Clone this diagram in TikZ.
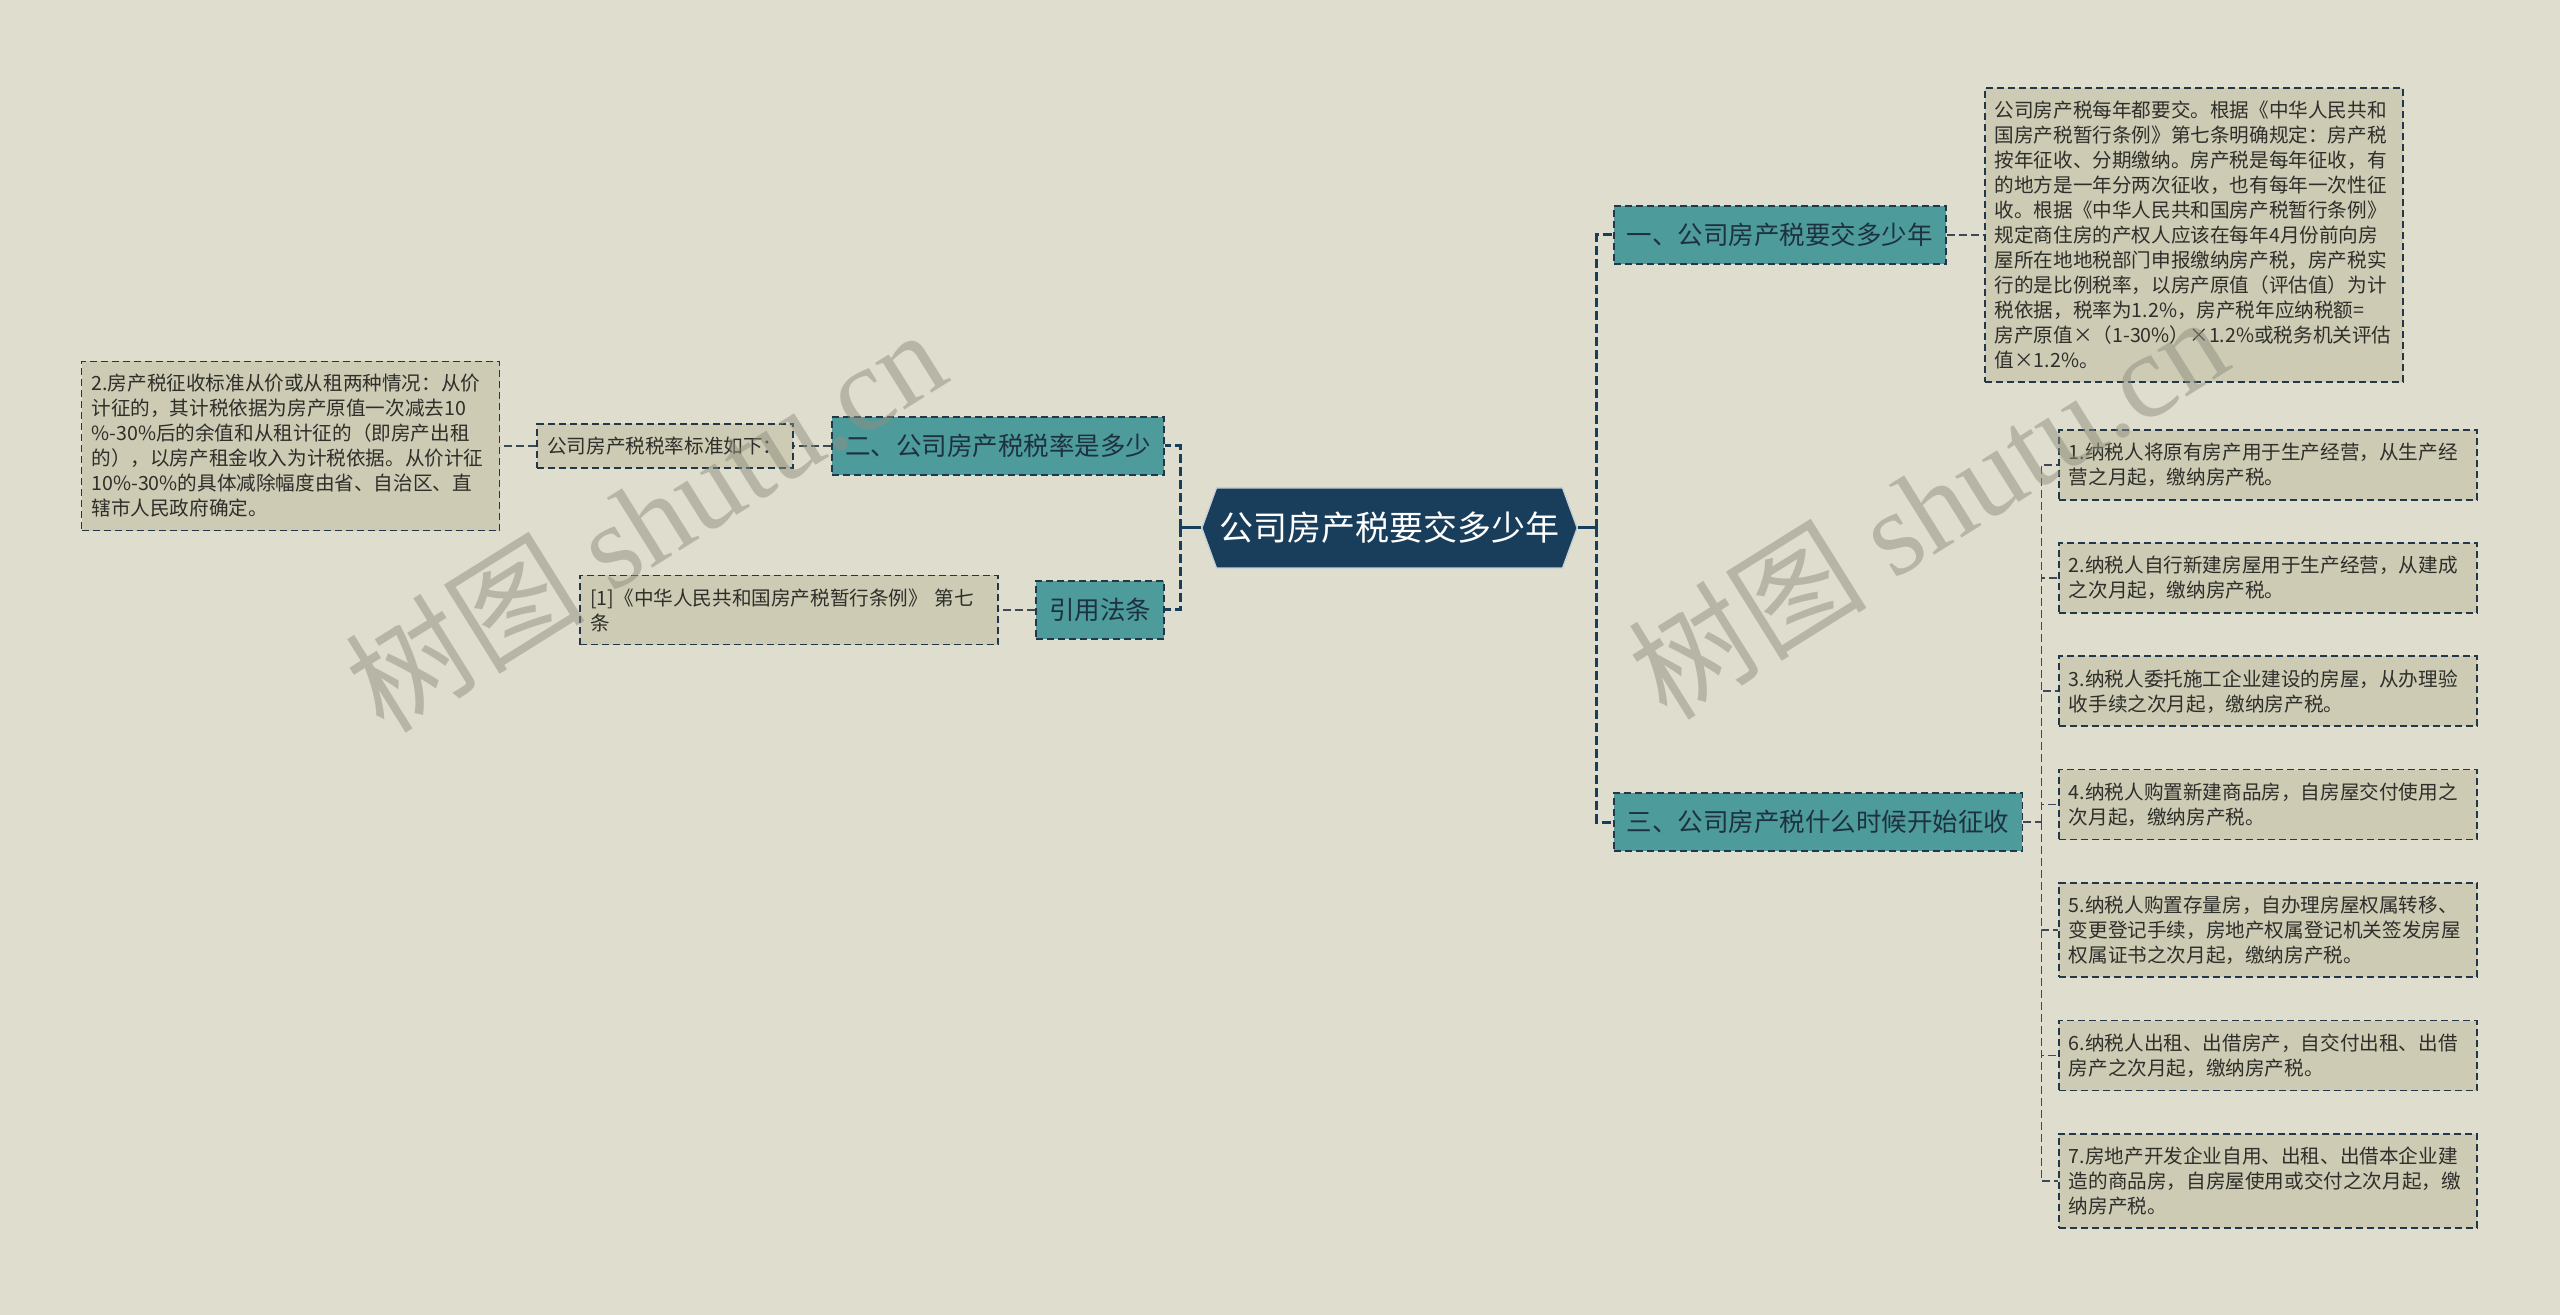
\documentclass[tikz,border=0pt]{standalone}
\usepackage{fontspec}
\setmainfont{Noto Sans CJK SC}
\newfontfamily\wmserif{Liberation Serif}
\usetikzlibrary{positioning, shapes.symbols}
\definecolor{tbg}{HTML}{DEDDCE}
\definecolor{tnavy}{HTML}{183E5C}
\definecolor{tteal}{HTML}{4D9B9B}
\definecolor{tleaf}{HTML}{CDCBB4}
\definecolor{tline}{HTML}{22384A}
\definecolor{tlink}{HTML}{3B4A55}
\definecolor{ttext}{HTML}{2E2E2A}
\definecolor{ttopic}{HTML}{1E3140}
\definecolor{twm}{HTML}{8F8F80}

\begin{document}
\begin{tikzpicture}[x=0.5pt, y=-0.5pt,
          leaf/.style={draw=tline, dash pattern=on 3.5pt off 2pt, line width=0.9pt, fill=tleaf, text=ttext, font=\fontsize{9.8}{12.5}\selectfont, align=left, text width=199pt, inner xsep=5pt, inner ysep=6.5pt},
          topic/.style={draw=tline, dash pattern=on 3.5pt off 2pt, line width=0.9pt, fill=tteal, text=ttopic, font=\fontsize{12.75}{15}\selectfont, minimum height=29pt, inner xsep=6.5pt},
          stub/.style={tnavy, line width=1.5pt},
          trunk/.style={tnavy, line width=1.5pt, dash pattern=on 4.5pt off 2pt},
          link/.style={tlink, line width=0.8pt, dash pattern=on 4pt off 2pt},
          wm/.style={text=twm, opacity=0.5, rotate=32, font=\fontsize{60}{60}\selectfont}]
        \path[use as bounding box, fill=tbg] (0,0) rectangle (2560,1315);
        \node[signal, signal to=east and west, signal pointer angle=140, fill=tnavy, draw=white!75!tnavy, line width=0.6pt, text=white, font=\fontsize{17}{20}\selectfont, minimum height=40pt, inner xsep=1.5pt] (root) at (1389.5,528) {公司房产税要交多少年};
        \node[topic, anchor=west] (q1) at (1613,235) {一、公司房产税要交多少年};
        \node[topic, anchor=west] (q3) at (1613,822) {三、公司房产税什么时候开始征收};
        \node[topic, anchor=east] (q2) at (1165,446) {二、公司房产税税率是多少};
        \node[topic, anchor=east] (ref) at (1165,610) {引用法条};
        \node[leaf, left=18.5pt of q2, text width=118pt] (rate1) {公司房产税税率标准如下：};
        \node[leaf, left=18pt of rate1] (rate2) {2.房产税征收标准从价或从租两种情况：从价\\计征的，其计税依据为房产原值一次减去10\\\%-30\%后的余值和从租计征的（即房产出租\\的），以房产租金收入为计税依据。从价计征\\10\%-30\%的具体减除幅度由省、自治区、直\\辖市人民政府确定。};
        \node[leaf, left=18pt of ref] (law1) {[1]《中华人民共和国房产税暂行条例》 第七\\条};
        \node[leaf, right=18.5pt of q1] (ans1) {公司房产税每年都要交。根据《中华人民共和\\国房产税暂行条例》第七条明确规定：房产税\\按年征收、分期缴纳。房产税是每年征收，有\\的地方是一年分两次征收，也有每年一次性征\\收。根据《中华人民共和国房产税暂行条例》\\规定商住房的产权人应该在每年4月份前向房\\屋所在地地税部门申报缴纳房产税，房产税实\\行的是比例税率，以房产原值（评估值）为计\\税依据，税率为1.2\%，房产税年应纳税额=\\房产原值×（1-30\%）×1.2\%或税务机关评估\\值×1.2\%。};
        \node[leaf, anchor=north west, minimum height=35pt] (it1) at (2058,429) {1.纳税人将原有房产用于生产经营，从生产经\\营之月起，缴纳房产税。};
        \node[leaf, below=20.7pt of it1, minimum height=35pt] (it2) {2.纳税人自行新建房屋用于生产经营，从建成\\之次月起，缴纳房产税。};
        \node[leaf, below=20.7pt of it2, minimum height=35pt] (it3) {3.纳税人委托施工企业建设的房屋，从办理验\\收手续之次月起，缴纳房产税。};
        \node[leaf, below=20.7pt of it3, minimum height=35pt] (it4) {4.纳税人购置新建商品房，自房屋交付使用之\\次月起，缴纳房产税。};
        \node[leaf, below=20.7pt of it4, minimum height=35pt] (it5) {5.纳税人购置存量房，自办理房屋权属转移、\\变更登记手续，房地产权属登记机关签发房屋\\权属证书之次月起，缴纳房产税。};
        \node[leaf, below=20.7pt of it5, minimum height=35pt] (it6) {6.纳税人出租、出借房产，自交付出租、出借\\房产之次月起，缴纳房产税。};
        \node[leaf, below=20.7pt of it6, minimum height=35pt] (it7) {7.房地产开发企业自用、出租、出借本企业建\\造的商品房，自房屋使用或交付之次月起，缴\\纳房产税。};
        \coordinate (lhub) at ([xshift=-10.5pt]root.west);
        \coordinate (rhub) at ([xshift=9.5pt]root.east);
        \coordinate (ihub) at ([xshift=9pt]q3.east);
        \draw[stub] (root.west) -- (lhub);
        \draw[stub] (root.east) -- (rhub);
        \draw[trunk] (lhub) |- (q2.east);
        \draw[trunk] (lhub) |- (ref.east);
        \draw[trunk] (rhub) |- (q1.west);
        \draw[trunk] (rhub) |- (q3.west);
        \draw[link] (q2) -- (rate1);
        \draw[link] (rate1) -- (rate2);
        \draw[link] (ref) -- (law1);
        \draw[link] (q1) -- (ans1);
        \draw[link] (q3) -- (ihub);
        \foreach \i in {1,...,7} \draw[link] (ihub) |- (it\i.west);
        \node[wm] (wm1) at (645,519) {树图 {\wmserif shutu.cn}};
        \node[wm] (wm2) at (1927,506) {树图 {\wmserif shutu.cn}};
      \end{tikzpicture}
\end{document}
